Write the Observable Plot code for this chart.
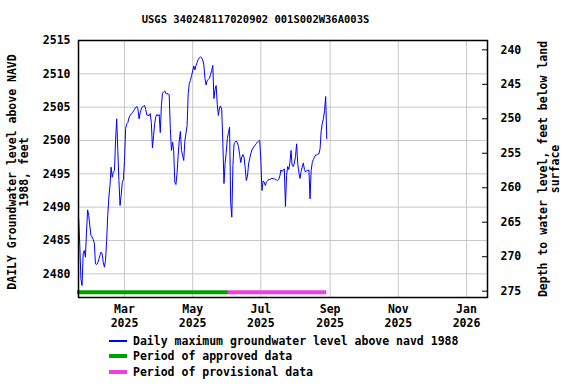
<!DOCTYPE html>
<html>
<head>
<meta charset="utf-8">
<script src="https://cdn.jsdelivr.net/npm/d3@7"></script>
<script src="https://cdn.jsdelivr.net/npm/@observablehq/plot@0.6"></script>
<style>
  body { margin: 0; background: #fff; }
  #wrap { position: relative; width: 576px; height: 384px; font-family: "DejaVu Sans Mono", monospace; font-weight: bold; color: #000; }
  #title { position: absolute; left: 0; width: 511px; top: 12px; text-align: center; font-size: 10.5px; line-height: 14px; }
  .row { position: absolute; left: 109px; height: 14px; line-height: 14px; font-size: 11.5px; white-space: nowrap; }
  .sw { position: absolute; left: 0; width: 18px; }
  .lt { position: absolute; left: 24px; top: 0; }
  #chart { position: absolute; left: 0; top: 0; }
</style>
</head>
<body>
<div id="wrap">
  <div id="chart"></div>
  <div id="title"></div>
  <div id="legend"></div>
</div>
<script>
// ---- data ----
const titleText = "USGS 340248117020902 001S002W36A003S";
const yLabel = "DAILY Groundwater level above NAVD\n1988, feet";
const y2Label = "Depth to water level, feet below land\nsurface";
const legendLabels = ["Daily maximum groundwater level above navd 1988", "Period of approved data", "Period of provisional data"];

const seriesStart = "2025-01-19"; // first daily value
const levels = [
  2488.25, 2484.25, 2479.26, 2478.25, 2483.0, 2483.5, 2482.5, 2486.25, 2489.6, 2488.75,
  2487.1, 2485.75, 2485.53, 2485.15, 2484.6, 2481.5, 2481.4, 2481.63, 2482.15, 2482.75,
  2483.25, 2483.0, 2481.7, 2481.0, 2482.0, 2485.0, 2488.75, 2491.5, 2493.25, 2496.0,
  2494.5, 2495.25, 2495.5, 2500.0, 2503.25, 2498.5, 2494.0, 2490.25, 2491.75, 2493.7,
  2494.15, 2497.0, 2501.8, 2502.5, 2502.7, 2503.38, 2503.75, 2504.0, 2504.15, 2504.4,
  2504.68, 2504.98, 2505.1, 2504.73, 2503.25, 2504.13, 2504.73, 2505.03, 2505.2, 2505.25,
  2504.65, 2503.83, 2503.8, 2503.72, 2504.05, 2502.7, 2498.9, 2500.75, 2502.55, 2503.6,
  2503.9, 2503.68, 2503.9, 2501.2, 2505.25, 2507.1, 2507.28, 2507.43, 2507.05, 2506.98,
  2507.02, 2506.83, 2501.76, 2498.5, 2499.75, 2498.5, 2493.7, 2493.4, 2495.05, 2497.75,
  2500.0, 2501.35, 2498.5, 2497.75, 2497.0, 2500.0, 2501.05, 2502.25, 2507.05, 2508.55,
  2509.0, 2509.75, 2510.43, 2511.18, 2510.6, 2511.25, 2511.7, 2512.15, 2512.42, 2512.56,
  2512.38, 2512.08, 2511.33, 2509.3, 2508.33, 2509.0, 2509.15, 2509.33, 2509.9, 2510.5,
  2511.25, 2506.3, 2507.65, 2508.25, 2505.4, 2503.75, 2504.95, 2505.18, 2504.58, 2499.55,
  2493.55, 2496.55, 2498.2, 2500.3, 2501.2, 2502.0, 2490.75, 2488.5, 2496.25, 2499.5,
  2499.75, 2499.93, 2499.63, 2499.1, 2497.9, 2496.7, 2497.53, 2497.9, 2497.45, 2495.88,
  2494.0, 2494.6, 2496.48, 2497.26, 2498.05, 2498.58, 2498.88, 2499.1, 2499.34, 2499.55,
  2499.8, 2499.9, 2500.0, 2497.0, 2492.5, 2493.93, 2493.75, 2493.25, 2493.78, 2493.93,
  2494.18, 2494.15, 2494.23, 2494.33, 2494.26, 2494.26, 2494.15, 2494.08, 2494.0, 2494.15,
  2494.68, 2495.6, 2495.35, 2495.58, 2495.74, 2490.1, 2494.75, 2496.1, 2495.65, 2496.7,
  2498.5, 2496.25, 2496.1, 2496.63, 2497.6, 2499.5, 2496.5, 2495.2, 2494.3, 2495.35,
  2496.03, 2496.63, 2495.65, 2495.25, 2495.5, 2495.5, 2495.58, 2491.26, 2495.5, 2496.7,
  2497.15, 2497.5, 2497.83, 2497.83, 2497.98, 2498.0, 2498.8, 2501.5, 2502.6, 2503.3,
  2504.5, 2506.6, 2500.25
];

const approvedPeriod = ["2025-01-18", "2025-06-02"];
const provisionalPeriod = ["2025-06-02", "2025-08-29"];

const xTickDates = ["2025-03-01", "2025-05-01", "2025-07-01", "2025-09-01", "2025-11-01", "2026-01-01"];
const yTicks = [2480, 2485, 2490, 2495, 2500, 2505, 2510, 2515];
const depthTicks = [240, 245, 250, 255, 260, 265, 270, 275];
// depth axis calibration: depth 240 ~ level 2513.6, depth 275 ~ level 2477.4
const depthCal = [[240, 2513.6], [275, 2477.4]];

const colors = { line: "#0000ff", approved: "#00a000", provisional: "#f040e0", grid: "#c8c8c8" };

// ---- build ----
const start = new Date(seriesStart + "T00:00Z");
const series = levels.map((v, i) => ({ date: d3.utcDay.offset(start, i), level: v }));
const toDate = s => new Date(s + "T00:00Z");
const depthToLevel = d3.scaleLinear().domain(depthCal.map(p => p[0])).range(depthCal.map(p => p[1]));
const depthLevels = depthTicks.map(d => depthToLevel(d));
const depthLabel = new Map(depthLevels.map((l, i) => [l, String(depthTicks[i])]));

const yDomain = [2476.45, 2515];
const barLevel = yDomain[0] + 0.78;

const W = 576, H = 384, mL = 78, mR = 89, mT = 40, mB = 87;
const frameW = W - mL - mR;

const chart = Plot.plot({
  width: W,
  height: H,
  marginLeft: mL,
  marginRight: mR,
  marginTop: mT,
  marginBottom: mB,
  style: { fontFamily: "DejaVu Sans Mono, monospace", fontSize: "11.5px", fontWeight: "bold", background: "transparent", color: "#000" },
  x: { type: "utc", domain: [new Date("2025-01-18T20:00Z"), new Date("2026-01-19T19:00Z")] },
  y: { domain: yDomain },
  marks: [
    Plot.gridX(xTickDates.map(toDate), { stroke: colors.grid, strokeOpacity: 1, strokeWidth: 1 }),
    Plot.gridY(yTicks, { stroke: colors.grid, strokeOpacity: 1, strokeWidth: 1 }),
    Plot.ruleY([0], { y: () => barLevel, x1: () => toDate(approvedPeriod[0]), x2: () => toDate(approvedPeriod[1]), stroke: colors.approved, strokeWidth: 4 }),
    Plot.ruleY([0], { y: () => barLevel, x1: () => toDate(provisionalPeriod[0]), x2: () => toDate(provisionalPeriod[1]), stroke: colors.provisional, strokeWidth: 4 }),
    Plot.line(series, { x: "date", y: "level", stroke: colors.line, strokeWidth: 1 }),
    // inward tick marks of the right-hand depth axis
    Plot.tickY(depthLevels, { stroke: "#000", strokeWidth: 1, insetLeft: frameW - 5 }),
    Plot.frame({ stroke: "#000", strokeWidth: 1.5 }),
    Plot.axisX(xTickDates.map(toDate), { tickSize: 0, tickPadding: 6, tickFormat: d3.utcFormat("%b\n%Y"), label: null, lineHeight: 1.17 }),
    Plot.axisY(yTicks, { anchor: "left", tickSize: 0, tickPadding: 8, tickFormat: d => String(d), label: null }),
    Plot.axisY(depthLevels, { anchor: "right", tickSize: 0, tickPadding: 13, tickFormat: d => depthLabel.get(d), label: null }),
    Plot.text([yLabel], { frameAnchor: "left", textAnchor: "middle", lineAnchor: "middle", rotate: -90, dx: -60, dy: 3, lineHeight: 1.05, text: d => d }),
    Plot.text([y2Label], { frameAnchor: "right", textAnchor: "middle", lineAnchor: "middle", rotate: -90, dx: 62, dy: 0, lineHeight: 1.05, text: d => d })
  ]
});
document.getElementById("chart").appendChild(chart);

document.getElementById("title").textContent = titleText;

const legend = document.getElementById("legend");
const rows = [
  { label: legendLabels[0], color: colors.line, w: 1.5, top: 334 },
  { label: legendLabels[1], color: colors.approved, w: 4, top: 349 },
  { label: legendLabels[2], color: colors.provisional, w: 4, top: 365 }
];
rows.forEach(r => {
  const row = document.createElement("div");
  row.className = "row";
  row.style.top = r.top + "px";
  const sw = document.createElement("div");
  sw.className = "sw";
  sw.style.top = (7 - r.w / 2) + "px";
  sw.style.height = r.w + "px";
  sw.style.background = r.color;
  const t = document.createElement("div");
  t.className = "lt";
  t.textContent = r.label;
  row.appendChild(sw);
  row.appendChild(t);
  legend.appendChild(row);
});
</script>
</body>
</html>
